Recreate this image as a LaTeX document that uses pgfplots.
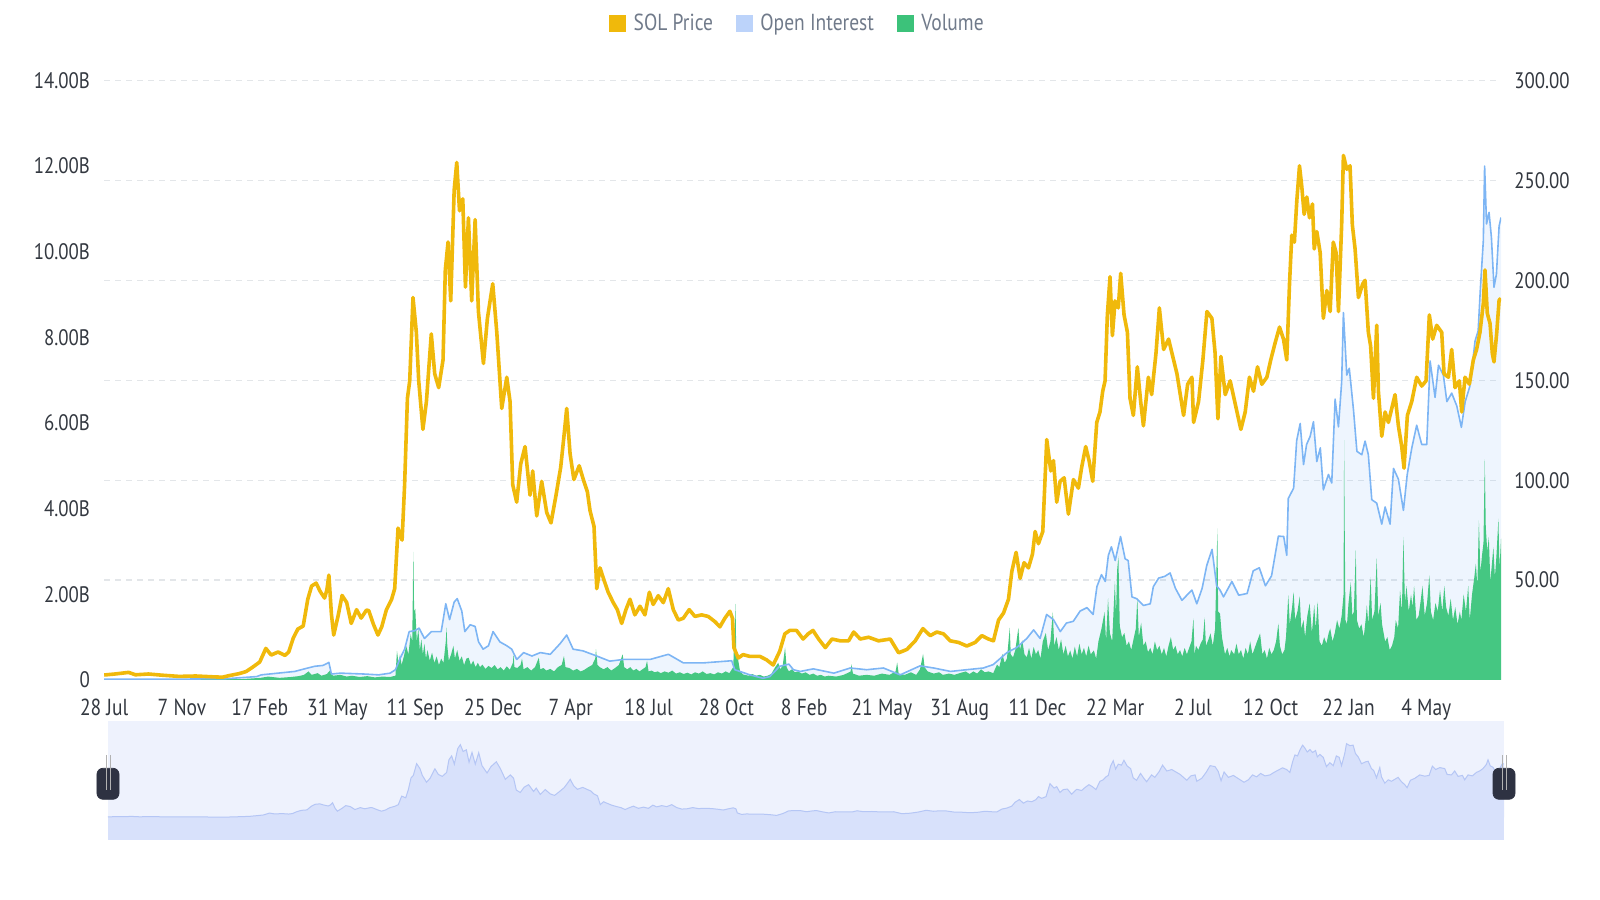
\documentclass[border=0pt]{standalone}
\usepackage{fontspec}
\setmainfont{PT Sans}[FakeStretch=0.84]
\usepackage{pgfplots}
\pgfplotsset{compat=1.18}
\usepackage{pgfplotstable}
\definecolor{solyellow}{HTML}{F0B90B}
\definecolor{oiline}{HTML}{7DB5F4}
\definecolor{volgreen}{HTML}{45C782}
\definecolor{legblue}{HTML}{BCD3FA}
\definecolor{leggreen}{HTML}{3CC27A}
\definecolor{gridc}{HTML}{E3E6E9}
\definecolor{ticktext}{HTML}{333840}
\definecolor{legtext}{HTML}{707A8A}
\definecolor{navbg}{HTML}{EEF2FD}
\definecolor{navarea}{HTML}{D8E1FB}
\definecolor{navline}{HTML}{B5C6F5}
\definecolor{handlec}{HTML}{2E3242}

\pgfplotstableread{
u p
0 2.5
14 3.0
32 3.8
41 2.6
58 3.0
76 2.4
98 1.8
120 2.0
142 1.6
155 1.4
164 2.2
177 3.2
186 4.2
195 6.5
204 9
212 15.8
219 12.5
228 14
237 12.3
242 14
248 21
254 25.5
261 27
267 40.4
272 47
278 48.5
283 44.5
289 41
292 45
294.7 52.5
298 33
301 22.5
307 32.5
312 42.3
318 38.8
324 28.3
331 35.2
337 31
344 35
347 34.7
353 28
359 22.5
364 26.6
370 35
377 40.4
381 45.7
385.4 76
390.7 70
394 97.7
397.7 141
400.7 149.7
405 191.4
409.4 174
412.5 149.7
418 125.4
422.6 139.3
429 173.2
433.5 153.2
438.7 146.3
444.4 160.2
447.4 205.3
451 219.2
454.5 189.7
459 245.2
462.4 259
466 234.8
470.3 240.8
473.8 196.6
477.7 231.3
482 189.7
486.5 230.4
490.8 184.4
497.4 158.4
502.6 181
509.6 198.3
514.9 174
521.4 135.9
528 151.5
532.3 139.3
535.8 97.7
541 89
546.3 108.1
552 116.8
558.5 92.5
562 104.6
567.3 82.1
573.8 99.4
580.4 83.8
586 78.6
592.6 92.5
598.7 106.4
603 122
606.6 135.9
611 113.3
616 100.3
623 107.2
628.4 100.3
633.7 94.2
637.2 84.7
642.4 76.9
646 45.7
650.3 56.1
655.5 50
661 43.9
667.7 38.7
673 35.2
678.7 28.3
684.3 35.2
689.6 40.4
696 32.6
702.7 36.9
709.2 32.6
715 43.9
720 37.8
726.7 42.2
733.3 38.7
739.8 45.7
746.4 35.2
753 30
759.5 30.9
767.3 35.2
774.8 31.8
783.5 32.6
792.2 31.8
801 29.2
807.5 26.6
814 30.9
820.6 34.4
824 30.9
825.9 16.2
831.5 11
838 12.7
846.8 11.8
860 11.8
868.7 10.1
877.4 7.5
886 14.4
892.7 23.1
899.2 24.8
908 24.8
916.7 20.5
923.3 23.1
929.6 24.8
937 20.5
945.8 16.2
954.5 20.5
965.4 19.6
976.3 19.6
983 24
991.6 20.5
1002.5 21.4
1015.6 19.6
1031 20.5
1041.9 13.6
1052.8 15.3
1063.7 19.6
1073.7 25.7
1083.4 22.2
1092 24
1100.8 23.1
1109.6 19.6
1120.5 18.8
1131.4 17
1142.3 18.8
1151 22.2
1159.8 20.5
1166.3 19.6
1173 30
1179.5 33.5
1186 40.4
1190.4 54.3
1196 63.9
1201.3 50.9
1206.5 58.7
1212.2 56.1
1217.5 63
1221 74.3
1225.3 68.2
1231 74.3
1236.2 120.3
1241.5 104.6
1245 109.8
1249.3 89
1253.7 99.4
1259 101.2
1264.6 83
1271.2 100.3
1277.7 96
1282 106.4
1287.3 116.8
1291.7 109.8
1296.5 99.4
1301.8 128.9
1306 134.1
1309.6 144.5
1312.7 149.7
1315.7 182.7
1319.2 201.8
1322.3 172.3
1325.8 189.7
1330 186.2
1333.2 203.5
1337.6 182.7
1342 174
1345.4 141
1349.8 132.4
1355 156.7
1359.4 139.3
1363 127.2
1369.5 151.5
1373.8 142.8
1379.5 163.6
1383.9 186.2
1389.5 165.4
1396 170.6
1400.4 163.6
1407 153.2
1415.7 132.4
1421 148
1426.6 151.5
1428.8 128.9
1435.3 139.3
1441 160.2
1446.3 184.4
1452.8 181
1457 163.6
1460.7 130.7
1464.6 161.9
1470.3 142.8
1476.8 149.7
1484.7 135.9
1490.8 125.4
1496.5 134.1
1502 151.5
1507.4 144.5
1512.6 156.7
1518.3 148
1524.9 151.5
1530 160.2
1535.8 168.8
1541.5 176.6
1546.7 170.6
1551 160.2
1554.6 198.3
1557.6 222.6
1561 219.1
1564.2 240
1567.7 257.3
1570.7 246.9
1573.8 233
1577.3 241.7
1580.8 231.3
1584.7 238.2
1587 215.7
1590.4 224.4
1594.8 213.9
1597 196.6
1599 181
1603.5 194.9
1607.9 184.4
1612 219.1
1615.7 213.9
1618.8 184.4
1623 227.8
1625.3 262.5
1629.7 255.6
1634 257.3
1637 227.8
1640.6 215.7
1645 191.4
1650.7 198.3
1653.7 200
1658 174
1661 167.1
1664.7 141
1669 177.5
1671.2 144.5
1675.6 122
1680 134.1
1684.3 128.9
1688.7 135.9
1693 142.8
1697.4 127.2
1701.8 116.8
1704.8 106
1709.2 132.4
1714.9 139.3
1721.4 151.5
1728 147.1
1733.7 149.7
1738 182.7
1742.4 170.6
1747.6 177.5
1754.2 174
1757.3 153.2
1763 151.5
1767.3 165.4
1771.7 146.3
1777.4 149.7
1780.4 134.1
1784.8 151.5
1790.5 148
1795.7 160.2
1800 165.4
1804.4 174
1808.8 188.5
1811 205.2
1814 183.5
1817.6 178.4
1820.6 163.4
1822.8 159.2
1826.3 173.4
1829.5 190.1
1832 191
}\pricetab

\pgfplotstableread{
u b
0 0.02
100 0.02
160 0.03
200 0.08
206 0.12
250 0.2
267 0.28
276 0.32
287 0.34
294.7 0.41
298 0.14
310 0.16
340 0.14
360 0.12
375 0.16
382 0.24
388 0.5
394 0.72
400 1.13
407 1.15
413 1.21
420 0.97
429 1.13
442 1.13
448 1.78
453 1.41
459 1.82
463 1.9
469 1.61
473 1.13
480 1.29
486.5 1.25
491 0.89
497 0.72
504 0.8
510 1.13
519 0.89
528 0.8
534.5 0.72
541 0.48
550 0.64
561 0.56
572 0.64
585 0.6
598 0.85
606.6 1.05
615 0.72
628 0.68
646 0.56
663 0.44
681 0.48
698 0.48
716 0.48
740 0.6
759.5 0.4
786 0.4
816 0.44
823 0.45
827 0.24
847 0.12
864 0.04
873 0.08
886 0.32
898 0.37
904 0.24
913 0.2
930 0.26
957 0.16
978.5 0.28
1000 0.24
1022 0.28
1044 0.12
1070 0.33
1088 0.28
1110 0.2
1131 0.24
1153 0.28
1166 0.36
1184 0.64
1197 0.76
1210 0.97
1219 1.17
1227.5 0.97
1236 1.53
1245 1.41
1254 1.13
1262 1.33
1271 1.37
1280 1.61
1289 1.69
1297 1.53
1302 2.18
1308 2.46
1313 2.3
1317 2.91
1321 3.11
1326 2.79
1333 3.35
1339 2.83
1343 2.79
1348 1.94
1354 1.9
1363 1.74
1372 1.78
1376 2.18
1383 2.38
1391 2.42
1398 2.5
1405 2.14
1413.5 1.86
1420 1.98
1426.6 2.1
1433 1.78
1440 2.14
1446 2.67
1453 3.05
1459 2.2
1463.5 2.1
1468 1.94
1479 2.3
1488 1.98
1499 2.02
1507 2.55
1515 2.62
1523 2.2
1531 2.43
1540 3.36
1547 3.35
1551 2.91
1553 4.24
1560 4.48
1564 5.59
1568.6 5.99
1573 5.03
1577 5.5
1581.7 5.69
1586 6.03
1590.4 5.1
1595 5.42
1599 4.44
1605.7 4.8
1610 4.6
1614.4 6.56
1618.8 5.91
1623 6.96
1625.3 8.58
1629.7 7.12
1633 7.28
1638.5 6.31
1643 5.34
1649.4 5.26
1653.7 5.58
1658 5.26
1662.5 4.21
1669 4.13
1675.6 3.64
1680 4.04
1686.5 3.64
1691 4.94
1697.4 4.69
1704 3.96
1709 4.8
1715 5.42
1721.4 5.95
1728 5.5
1734.6 5.5
1739 7.45
1745.5 6.6
1750 7.35
1756.4 7.12
1761 6.5
1767.3 6.7
1774 6.4
1780 5.9
1785 6.5
1791 6.85
1798 7.92
1802 8.15
1805 9.16
1808.8 10.26
1810.5 12.0
1813 10.65
1816.3 10.92
1819.4 10.34
1822.8 9.17
1826 9.48
1829.5 10.6
1832 10.8
}\oitab

\pgfplotstableread{
u v
0 0.01
60 0.01
120 0.01
180 0.02
205 0.05
215 0.08
230 0.05
245 0.07
255 0.09
262 0.12
268 0.2
272 0.12
280 0.16
285 0.1
292 0.14
296 0.22
300 0.1
310 0.12
318 0.08
325 0.1
335 0.07
345 0.09
355 0.06
365 0.08
375 0.07
382 0.1
384 0.68
386 0.4
388 0.6
390 0.35
393 0.55
396 0.8
399 0.6
402 1.07
404 0.9
405.5 2.99
406.5 1.6
408 1.66
410 0.9
412 1.2
414 0.7
416 0.95
418 0.6
420 0.85
422 0.5
424 0.7
427 0.45
430 0.64
433 0.4
436 0.55
439 0.35
442 0.5
445 0.4
448 0.9
449 1.23
450 0.8
452 0.45
455 0.6
458 0.8
460 0.5
463 0.7
466 0.45
469 0.55
472 0.35
475 0.5
478 0.52
481 0.35
484 0.45
487 0.3
490 0.4
493 0.3
496 0.36
500 0.26
504 0.33
508 0.28
512 0.35
516 0.25
520 0.3
524 0.22
528 0.32
532 0.24
536 0.4
537 0.6
538 0.3
542 0.28
546 0.35
548 0.5
550 0.25
555 0.3
560 0.22
565 0.3
570 0.52
572 0.25
576 0.28
580 0.22
585 0.26
590 0.2
595 0.3
600 0.35
603 0.56
605 0.3
610 0.28
615 0.22
620 0.26
625 0.2
630 0.24
635 0.3
640 0.35
644 0.5
645 0.72
647 0.35
650 0.3
655 0.25
660 0.3
665 0.22
670 0.28
675 0.35
680 0.6
682 0.3
686 0.25
690 0.3
694 0.22
698 0.26
702 0.2
706 0.25
710 0.3
712 0.45
714 0.2
718 0.22
722 0.18
726 0.2
730 0.16
735 0.2
740 0.17
745 0.22
750 0.15
755 0.18
760 0.14
765 0.17
770 0.13
775 0.18
780 0.15
785 0.2
790 0.14
795 0.16
800 0.13
805 0.18
810 0.15
815 0.2
820 0.16
825 0.3
828 1.78
829 0.6
831 0.52
834 0.2
838 0.13
845 0.1
850 0.14
855 0.1
860 0.12
865 0.08
870 0.1
875 0.14
880 0.3
884 0.4
887 0.25
890 0.35
893 0.76
895 0.3
898 0.2
902 0.25
906 0.18
910 0.2
915 0.15
920 0.18
925 0.12
930 0.15
935 0.1
940 0.12
945 0.08
950 0.1
960 0.08
970 0.12
979 0.2
980 0.37
982 0.15
990 0.1
1000 0.12
1010 0.1
1020 0.15
1030 0.12
1038 0.2
1040 0.41
1042 0.15
1050 0.12
1058 0.18
1065 0.12
1070 0.25
1074 0.61
1076 0.3
1080 0.2
1088 0.15
1095 0.18
1100 0.12
1108 0.15
1115 0.12
1122 0.16
1130 0.2
1135 0.14
1140 0.2
1145 0.15
1150 0.25
1155 0.18
1160 0.2
1166 0.16
1171 0.36
1174 0.3
1178 0.61
1181 0.4
1184 0.5
1187.7 1.22
1189 0.6
1192 0.53
1195 0.7
1199 1.22
1201 0.7
1204 0.93
1207 0.6
1210 0.53
1213 0.75
1216 0.5
1219 0.77
1222 0.6
1225 0.7
1228 0.5
1231 0.9
1235 1.1
1238 0.7
1241 0.9
1244.2 1.59
1246 0.8
1249 1.0
1252 0.7
1255 0.95
1258 0.6
1261 0.8
1264 0.55
1267 0.69
1270 0.5
1273 0.78
1276 0.55
1279 0.85
1282 0.6
1285 0.75
1288 0.55
1291 0.8
1294 0.6
1298 0.69
1301 0.5
1304 0.9
1308 1.2
1312 1.59
1314 0.9
1316.6 1.91
1319 1.1
1322 0.9
1325.6 2.31
1327 1.5
1328.5 2.56
1330.2 2.89
1332 1.26
1335 1.0
1338 1.1
1341 0.8
1344 0.9
1347 0.7
1350 0.95
1353 1.2
1355 1.91
1357 1.0
1360 1.34
1363 0.8
1366 0.9
1369 0.65
1372 0.75
1375 0.6
1378 0.9
1381 0.7
1384 0.8
1387 0.6
1390 0.75
1393 0.55
1396 0.8
1399 1.0
1402 0.7
1405 0.8
1408 0.6
1411 0.7
1414 0.55
1417 0.75
1420 0.6
1423 0.75
1426 0.9
1428.6 1.44
1430 0.6
1432 0.8
1435 0.7
1438 0.85
1441 0.95
1443.3 1.46
1445 0.8
1448 0.93
1451 1.09
1454 0.8
1457 1.2
1460 3.54
1461 1.6
1463.5 1.55
1466 1.0
1468 0.8
1470 0.6
1473 0.75
1476 0.55
1478 0.7
1482 0.6
1485 0.85
1488 0.6
1491 0.7
1494 0.5
1497 0.75
1500 0.6
1503 0.9
1506 0.6
1509 0.75
1512 0.9
1516 1.09
1519 0.6
1522 0.7
1525 0.5
1528 0.75
1531 0.6
1534 0.7
1537 0.9
1540 1.32
1542 0.8
1545 0.6
1548 0.7
1550 1.0
1553 1.98
1555 1.3
1558 1.7
1560 2.06
1562 1.4
1565 1.6
1568 1.95
1570 1.2
1573 1.4
1575 1.0
1578 1.5
1581 1.79
1584 1.1
1587 1.75
1589 1.2
1591.5 1.83
1594 0.9
1597 0.8
1600 1.0
1603 0.85
1606 1.1
1608 1.2
1611 0.9
1614 1.1
1617 1.4
1620 1.2
1623 1.5
1625.5 2.0
1626.2 5.6
1627 3.58
1628 1.4
1630 1.3
1632 1.8
1635 2.29
1637 1.5
1639 1.6
1641.5 3.03
1643 1.4
1646 1.2
1649 1.3
1652 1.0
1655 1.5
1656 1.75
1658 1.3
1661 2.41
1663 1.4
1666 1.6
1669 2.84
1671 1.5
1674 1.8
1676 1.3
1680 0.9
1683 1.0
1686 0.7
1689 0.8
1692 1.0
1694 1.4
1697 1.2
1699.6 2.1
1702 1.6
1704 3.34
1706 1.8
1708 2.2
1711 1.6
1714 2.0
1716 1.7
1718 2.2
1721 1.4
1724 1.5
1727 1.9
1729 2.2
1732 1.5
1735 1.8
1738 2.45
1740 1.6
1743 1.4
1746 1.8
1749 1.6
1752 2.1
1755 1.6
1757.6 2.2
1760 1.7
1763 1.5
1766 1.9
1769 1.4
1772 1.7
1775 1.3
1778 1.6
1780 1.4
1783 2.0
1786 1.6
1789 2.2
1791 1.4
1794 2.0
1797 2.4
1799 2.72
1801 2.2
1803 3.73
1805 2.5
1807 2.9
1809 3.2
1810.7 5.15
1812 3.58
1814 3.0
1816 3.34
1818 2.3
1820 2.7
1822 3.1
1824 2.4
1826 2.9
1828.6 3.77
1830 2.6
1832 3.3
}\voltab

\begin{document}
\begin{tikzpicture}
\path[use as bounding box] (0,0) rectangle (800bp,450bp);

% ---------- navigator (drawn first, below the main chart) ----------
\begin{axis}[
  at={(54bp,30bp)}, anchor=south west, scale only axis,
  width=698bp, height=59.75bp,
  xmin=0, xmax=1832, ymin=-80, ymax=345,
  axis line style={draw=none}, ticks=none,
  clip=false,
]
\fill[navbg] (axis cs:0,-80) rectangle (axis cs:1832,345);
\fill[navarea] (axis cs:0,-80) rectangle (axis cs:1832,0.5);
\addplot[fill=navarea, draw=none] table[x=u,y=p]{\pricetab} \closedcycle;
\addplot[navline, line width=0.5bp] table[x=u,y=p]{\pricetab};
\filldraw[fill=handlec, draw=handlec, rounded corners=3bp]
  ([xshift=-5.5bp,yshift=-7.75bp]axis cs:0,120) rectangle ([xshift=5.5bp,yshift=7.75bp]axis cs:0,120);
\draw[gray!60, line width=0.4bp] ([xshift=-1bp,yshift=-3bp]axis cs:0,120) -- ++(0,6bp);
\draw[gray!60, line width=0.4bp] ([xshift=1bp,yshift=-3bp]axis cs:0,120) -- ++(0,6bp);
\filldraw[fill=handlec, draw=handlec, rounded corners=3bp]
  ([xshift=-5.5bp,yshift=-7.75bp]axis cs:1832,120) rectangle ([xshift=5.5bp,yshift=7.75bp]axis cs:1832,120);
\draw[gray!60, line width=0.4bp] ([xshift=-1bp,yshift=-3bp]axis cs:1832,120) -- ++(0,6bp);
\draw[gray!60, line width=0.4bp] ([xshift=1bp,yshift=-3bp]axis cs:1832,120) -- ++(0,6bp);
\end{axis}

% ---------- left axis: open interest and volume ----------
\begin{axis}[
  at={(52.1bp,110bp)}, anchor=south west, scale only axis,
  width=698.4bp, height=299.75bp,
  xmin=0, xmax=1832, ymin=0, ymax=14,
  axis line style={draw=none},
  major tick length=0pt,
  xtick={0,102,...,1734},
  xticklabels={28 Jul,7 Nov,17 Feb,31 May,11 Sep,25 Dec,7 Apr,18 Jul,28 Oct,8 Feb,21 May,31 Aug,11 Dec,22 Mar,2 Jul,12 Oct,22 Jan,4 May},
  ytick={0,2,...,14},
  yticklabels={0,2.00B,4.00B,6.00B,8.00B,10.00B,12.00B,14.00B},
  yticklabel style={anchor=east, inner sep=0pt, xshift=-7bp, font=\fontsize{11.2bp}{13bp}\selectfont, text=ticktext},
  xticklabel style={anchor=north, inner sep=0pt, yshift=-9.5bp, font=\fontsize{11.6bp}{13bp}\selectfont, text=ticktext},
  extra y ticks={2.33333,4.66667,7,9.33333,11.66667,14},
  extra y tick labels={},
  extra y tick style={grid=major, major grid style={gridc, line width=0.6bp, dash pattern=on 3bp off 2.5bp}},
]
\addplot[draw=none, fill=oiline, fill opacity=0.13] table[x=u,y=b]{\oitab} \closedcycle;
\addplot[draw=none, fill=volgreen] table[x=u,y=v]{\voltab} \closedcycle;
\addplot[volgreen, line width=0.6bp] coordinates {(0,0.01) (1832,0.01)};
\addplot[oiline, line width=0.8bp, line join=round] table[x=u,y=b]{\oitab};
\end{axis}

% ---------- right axis: SOL price ----------
\begin{axis}[
  at={(52.1bp,110bp)}, anchor=south west, scale only axis,
  width=698.4bp, height=299.75bp,
  xmin=0, xmax=1832, ymin=0, ymax=300,
  axis y line*=right, axis x line=none,
  axis line style={draw=none},
  major tick length=0pt,
  ytick={50,100,...,300},
  yticklabels={50.00,100.00,150.00,200.00,250.00,300.00},
  yticklabel style={anchor=west, inner sep=0pt, xshift=6.5bp, font=\fontsize{11.2bp}{13bp}\selectfont, text=ticktext},
  legend style={draw=none, fill=none, at={(rel axis cs:0.4985,1.0951)}, anchor=center,
    legend columns=3, font=\fontsize{11.6bp}{13bp}\selectfont, text=legtext,
    /tikz/every even column/.append style={column sep=7.5bp},
    nodes={inner xsep=4bp, inner ysep=1bp}},
  legend cell align=left,
]
\addplot[solyellow, line width=1.8bp, line join=round, forget plot] table[x=u,y=p]{\pricetab};
\addlegendimage{legend image code/.code={\fill[solyellow] (0bp,-3.9bp) rectangle (7.8bp,3.9bp);}}
\addlegendentry{SOL Price}
\addlegendimage{legend image code/.code={\fill[legblue] (0bp,-3.9bp) rectangle (7.8bp,3.9bp);}}
\addlegendentry{Open Interest}
\addlegendimage{legend image code/.code={\fill[leggreen] (0bp,-3.9bp) rectangle (7.8bp,3.9bp);}}
\addlegendentry{Volume}
\end{axis}
\end{tikzpicture}
\end{document}
